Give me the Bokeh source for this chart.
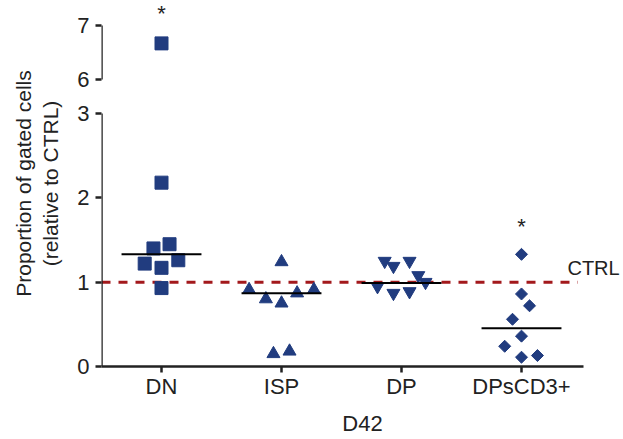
import math
from bokeh.plotting import figure
from bokeh.models import Range1d, LinearAxis, FixedTicker
from bokeh.embed import file_html
from bokeh.resources import INLINE
from bokeh.core.properties import value

# ---- data ----
categories = ["DN", "ISP", "DP", "DPsCD3+"]
dn_values = [6.67, 2.18, 1.40, 1.45, 1.22, 1.17, 1.26, 0.93]
isp_values = [1.24, 0.91, 0.80, 0.75, 0.87, 0.91, 0.15, 0.18]
dp_values = [1.25, 1.19, 1.25, 1.08, 1.00, 0.95, 0.87, 0.89]
dpscd3_values = [1.33, 0.86, 0.72, 0.56, 0.36, 0.24, 0.11, 0.13]
medians = [1.33, 0.87, 0.99, 0.455]
ctrl_level = 1.0
ctrl_label = "CTRL"
significant = ["DN", "DPsCD3+"]
y_ticks_low = [0, 1, 2, 3]
y_ticks_high = [6, 7]
x_label = "D42"
y_label = "Proportion of gated cells\n(relative to CTRL)"

# ---- layout ----
dn_dx = [0, 0, -0.067, 0.067, -0.14, 0, 0.14, 0]
isp_dx = [0, -0.27, -0.13, 0, 0.13, 0.27, -0.067, 0.067]
dp_dx = [-0.14, -0.067, 0.067, 0.14, 0.2, -0.2, -0.067, 0.067]
dps_dx = [0, 0, 0.067, -0.075, 0, -0.14, 0, 0.133]
star_offsets = [-30, -28]      # screen px above the group's highest point

BREAK = 3.5            # values above this go to the upper (broken) segment
Y_END = 4.340          # top of the plotting frame in lower-segment units
SEG_LO, SEG_HI = 3.400, 4.044   # where 6 and 7 of the upper segment sit on the frame
seg_scale = (SEG_HI - SEG_LO) / (y_ticks_high[1] - y_ticks_high[0])
top_start = y_ticks_high[0] - SEG_LO / seg_scale
top_end = y_ticks_high[1] + (Y_END - SEG_HI) / seg_scale

NAVY = "#213c7f"
DARK = "#222222"
FONT = "Liberation Sans"

p = figure(width=623, height=439, output_backend="svg", toolbar_location=None,
           x_range=Range1d(0.5, 4.85), y_range=Range1d(0, Y_END),
           x_axis_location=None, y_axis_location=None,
           min_border_left=101, min_border_right=0, min_border_top=0, min_border_bottom=73)
p.extra_y_ranges = {"top": Range1d(top_start, top_end)}
p.grid.visible = False
p.outline_line_color = None
p.background_fill_color = "white"
p.border_fill_color = "white"

# main y axis: ticks + labels + title (rule drawn by the two segment axes below)
tick_pos = y_ticks_low + [SEG_LO, SEG_HI]
tick_txt = [str(t) for t in y_ticks_low] + [str(t) for t in y_ticks_high]
ax_y = LinearAxis(ticker=FixedTicker(ticks=tick_pos),
                  major_label_overrides={k: v for k, v in zip(tick_pos, tick_txt)},
                  bounds=(0, SEG_HI), axis_label=y_label)
ax_y.axis_line_color = None
ax_y.major_tick_line_width = 2.5
ax_y.major_tick_line_color = DARK
ax_y.major_tick_out = 6
ax_y.major_tick_in = 0
ax_y.minor_tick_line_color = None
ax_y.major_label_text_font = FONT
ax_y.major_label_text_font_size = "22px"
ax_y.major_label_text_color = DARK
ax_y.major_label_standoff = 6
ax_y.axis_label_text_font = FONT
ax_y.axis_label_text_font_size = "21px"
ax_y.axis_label_text_font_style = "normal"
ax_y.axis_label_text_color = DARK
ax_y.axis_label_standoff = 12
p.add_layout(ax_y, "left")

for b in [(0, 3), (SEG_LO, SEG_HI)]:
    rule = LinearAxis(ticker=FixedTicker(ticks=[]), bounds=b, fixed_location=0.5,
                      axis_line_width=2.5, axis_line_color=DARK,
                      major_tick_line_color=None, minor_tick_line_color=None)
    p.add_layout(rule, "left")

xpos = list(range(1, len(categories) + 1))
ax_x = LinearAxis(ticker=FixedTicker(ticks=xpos),
                  major_label_overrides={i: c for i, c in zip(xpos, categories)},
                  bounds=(0.5, 4.52), axis_label=x_label)
ax_x.axis_line_width = 2.5
ax_x.axis_line_color = DARK
ax_x.major_tick_line_width = 2.5
ax_x.major_tick_line_color = DARK
ax_x.major_tick_out = 6
ax_x.major_tick_in = 0
ax_x.minor_tick_line_color = None
ax_x.major_label_text_font = FONT
ax_x.major_label_text_font_size = "22px"
ax_x.major_label_text_color = DARK
ax_x.major_label_standoff = 1
ax_x.axis_label_text_font = FONT
ax_x.axis_label_text_font_size = "22px"
ax_x.axis_label_text_font_style = "normal"
ax_x.axis_label_text_color = DARK
ax_x.axis_label_standoff = 9
p.add_layout(ax_x, "below")

# control level
p.segment(x0=[0.5], x1=[4.47], y0=[ctrl_level], y1=[ctrl_level],
          line_color="#a3191c", line_width=3, line_dash="9 8")
p.text(x=[4.383], y=[ctrl_level], y_offset=-14, text=[ctrl_label], text_font=value(FONT),
       text_font_size="20px", text_color=DARK, text_baseline="alphabetic", text_align="left")

groups = [
    (dn_values, dn_dx, "square", 13, 0),
    (isp_values, isp_dx, "triangle", 13, 0),
    (dp_values, dp_dx, "inverted_triangle", 13, 0),
    (dpscd3_values, dps_dx, "square", 8.5, math.pi / 4),
]
for i, (vals, dx, marker, size, ang) in enumerate(groups):
    xc = xpos[i]
    low = [(xc + d, v) for v, d in zip(vals, dx) if v < BREAK]
    high = [(xc + d, v) for v, d in zip(vals, dx) if v >= BREAK]
    if low:
        p.scatter(x=[a for a, _ in low], y=[b for _, b in low], marker=marker, size=size,
                  angle=ang, fill_color=NAVY, line_color=NAVY, line_width=1)
    if high:
        p.scatter(x=[a for a, _ in high], y=[b for _, b in high], marker=marker, size=size,
                  angle=ang, fill_color=NAVY, line_color=NAVY, line_width=1,
                  y_range_name="top")

# medians
p.segment(x0=[x - 0.333 for x in xpos], x1=[x + 0.333 for x in xpos],
          y0=medians, y1=medians, line_color="black", line_width=2)

# significance stars just above each group's highest point
for c, off in zip(significant, star_offsets):
    i = categories.index(c)
    top = max(groups[i][0])
    kw = dict(text=["*"], text_font=value(FONT), text_font_size="22px", text_color=DARK,
              text_align="center", text_baseline="alphabetic", y_offset=off)
    if top >= BREAK:
        p.text(x=[xpos[i]], y=[top], y_range_name="top", **kw)
    else:
        p.text(x=[xpos[i]], y=[top], **kw)

open("out.html", "w").write(file_html(p, INLINE))
